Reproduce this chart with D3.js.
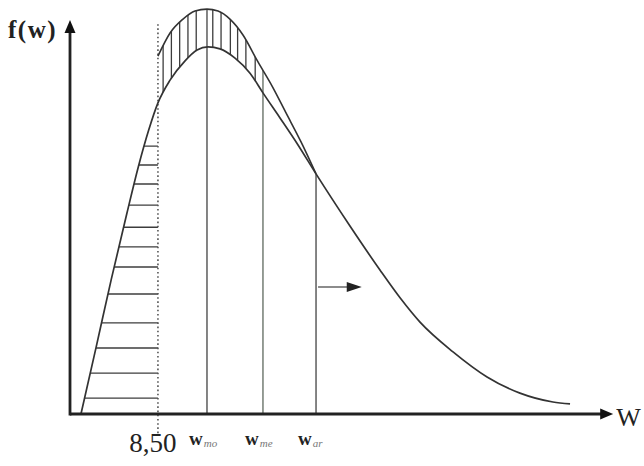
<!DOCTYPE html>
<html>
<head>
<meta charset="utf-8">
<script src="https://cdn.jsdelivr.net/npm/d3@7"></script>
<style>
body { margin: 0; background: #fff; }
svg { display: block; }
text { font-family: "Liberation Serif", "Times New Roman", serif; fill: #222; }
</style>
</head>
<body>
<div id="chart"></div>
<script>
// density curve f(w)
var lowerW = [1.06, 2.5, 4.0, 5.5, 6.6, 7.6, 8.5, 9.67, 11.12, 12.28, 13.34, 14.50, 15.95, 17.40, 18.65, 20.30, 22.04, 23.78, 27.06, 29.96, 31.90, 33.83, 37.02, 40.31, 43.49, 46.68, 48.33];
var lowerF = [0, 0.17, 0.35, 0.52, 0.64, 0.735, 0.806, 0.865, 0.915, 0.943, 0.951, 0.946, 0.922, 0.883, 0.832, 0.767, 0.697, 0.622, 0.487, 0.373, 0.301, 0.238, 0.161, 0.096, 0.054, 0.031, 0.026];

// shifted curve above the peak (vertically hatched band)
var upperW = [8.5, 9.67, 10.92, 12.08, 13.24, 14.31, 15.46, 16.72, 18.17, 19.52, 20.88, 22.33, 23.78];
var upperF = [0.927, 0.987, 1.023, 1.044, 1.049, 1.044, 1.023, 0.982, 0.912, 0.850, 0.780, 0.705, 0.622];

// hatching
var hatchLevels = [0.694, 0.645, 0.596, 0.541, 0.484, 0.433, 0.381, 0.311, 0.236, 0.171, 0.106, 0.041];
var hatchW = [9.0, 9.8, 10.6, 11.4, 12.2, 13.8, 14.6, 15.5, 16.2, 17.0, 17.9];

// threshold and characteristic values
var threshold = 8.5;
var thresholdLabel = "8,50";
var markerW = [13.24, 18.65, 23.78];
var markerSub = ["mo", "me", "ar"];
var arrowF = 0.329;
var arrowTipW = 28.2;

var svg = d3.select("#chart")
  .append("svg")
  .attr("width", 644)
  .attr("height", 466);

var x = d3.scaleLinear().domain([0, 52]).range([70, 608]);
var y = d3.scaleLinear().domain([0, 1]).range([414, 28]);

var lower = lowerW.map((w, i) => ({w: w, f: lowerF[i]}));
var upper = upperW.map((w, i) => ({w: w, f: upperF[i]}));

var line = d3.line().x(d => x(d.w)).y(d => y(d.f)).curve(d3.curveMonotoneX);
var under = d3.area().x(d => x(d.w)).y0(y(0)).y1(d => y(d.f)).curve(d3.curveMonotoneX);

var defs = svg.append("defs");
defs.append("clipPath").attr("id", "underLower")
  .append("path").attr("d", under(lower));

var both = defs.append("clipPath").attr("id", "underBoth");
both.append("path").attr("d", under(lower));
both.append("path").attr("d", under(upper));

var band = defs.append("mask").attr("id", "band")
  .attr("maskUnits", "userSpaceOnUse")
  .attr("x", 0).attr("y", 0).attr("width", 644).attr("height", 466);
band.append("path").attr("d", under(upper)).attr("fill", "white");
band.append("path").attr("d", under(lower)).attr("fill", "black");

// horizontal hatching left of the threshold
svg.append("g")
  .attr("clip-path", "url(#underLower)")
  .selectAll("line")
  .data(hatchLevels)
  .enter().append("line")
  .attr("x1", x(0)).attr("x2", x(threshold))
  .attr("y1", d => y(d)).attr("y2", d => y(d))
  .style("stroke", "#3c3c3c")
  .style("stroke-width", 1.4);

// vertical hatching between the two curves
svg.append("g")
  .attr("mask", "url(#band)")
  .selectAll("line")
  .data(hatchW)
  .enter().append("line")
  .attr("x1", d => x(d)).attr("x2", d => x(d))
  .attr("y1", y(0)).attr("y2", y(1.2))
  .style("stroke", "#3c3c3c")
  .style("stroke-width", 1.3);

// w_mo, w_me, w_ar
svg.append("g")
  .attr("clip-path", "url(#underBoth)")
  .selectAll("line")
  .data(markerW)
  .enter().append("line")
  .attr("x1", d => x(d)).attr("x2", d => x(d))
  .attr("y1", y(0)).attr("y2", y(1.2))
  .style("stroke", (d, i) => i == 1 ? "#7c857c" : "#666")
  .style("stroke-width", 1.6);

// threshold dotted line
svg.append("line")
  .attr("x1", x(threshold)).attr("x2", x(threshold))
  .attr("y1", y(1.01)).attr("y2", y(-0.05))
  .style("stroke", "#555")
  .style("stroke-width", 1.6)
  .style("stroke-dasharray", "1.6,2.6");

// curves
svg.append("path")
  .attr("d", line(upper))
  .style("fill", "none")
  .style("stroke", "#333")
  .style("stroke-width", 1.6);

svg.append("path")
  .attr("d", line(lower))
  .style("fill", "none")
  .style("stroke", "#333")
  .style("stroke-width", 1.7);

// arrow to the right of w_ar
var ax0 = x(markerW[2]) + 2, ax1 = x(arrowTipW), ay = y(arrowF);
svg.append("line")
  .attr("x1", ax0).attr("x2", ax1 - 10)
  .attr("y1", ay).attr("y2", ay)
  .style("stroke", "#666")
  .style("stroke-width", 1.4);
svg.append("path")
  .attr("d", "M" + ax1 + "," + ay + "L" + (ax1 - 15) + "," + (ay - 5) + "L" + (ax1 - 15) + "," + (ay + 5) + "Z")
  .style("fill", "#222");

// axes with arrowheads
var xTip = x(52.5), yTip = y(1.021);
svg.append("line")
  .attr("x1", x(0)).attr("x2", xTip - 8)
  .attr("y1", y(0)).attr("y2", y(0))
  .style("stroke", "#222")
  .style("stroke-width", 2.8);
svg.append("path")
  .attr("d", "M" + xTip + "," + y(0) + "L" + (xTip - 13) + "," + (y(0) - 5.5) + "L" + (xTip - 13) + "," + (y(0) + 5.5) + "Z")
  .style("fill", "#111");
svg.append("line")
  .attr("x1", x(0)).attr("x2", x(0))
  .attr("y1", y(0) + 1.4).attr("y2", yTip + 8)
  .style("stroke", "#222")
  .style("stroke-width", 2.8);
svg.append("path")
  .attr("d", "M" + x(0) + "," + yTip + "L" + (x(0) - 5.5) + "," + (yTip + 13) + "L" + (x(0) + 5.5) + "," + (yTip + 13) + "Z")
  .style("fill", "#111");

// labels
svg.append("text")
  .attr("x", 8).attr("y", 38)
  .style("font-size", "25px")
  .style("font-weight", "bold")
  .style("letter-spacing", "1.5px")
  .text("f(w)");

svg.append("text")
  .attr("x", xTip + 3).attr("y", y(0) + 12)
  .style("font-size", "26px")
  .text("W");

svg.append("text")
  .attr("x", x(threshold) - 5).attr("y", 452)
  .attr("text-anchor", "middle")
  .style("font-size", "27px")
  .text(thresholdLabel);

var lab = svg.selectAll("text.w")
  .data(markerW)
  .enter().append("text")
  .attr("class", "w")
  .attr("x", d => x(d) - 18)
  .attr("y", 445);
lab.append("tspan")
  .style("font-size", "19px")
  .style("font-weight", "bold")
  .text("w");
lab.append("tspan")
  .attr("dx", 1).attr("dy", 1.5)
  .style("font-size", "11px")
  .style("font-style", "italic")
  .style("fill", "#777")
  .text((d, i) => markerSub[i]);
</script>
</body>
</html>
